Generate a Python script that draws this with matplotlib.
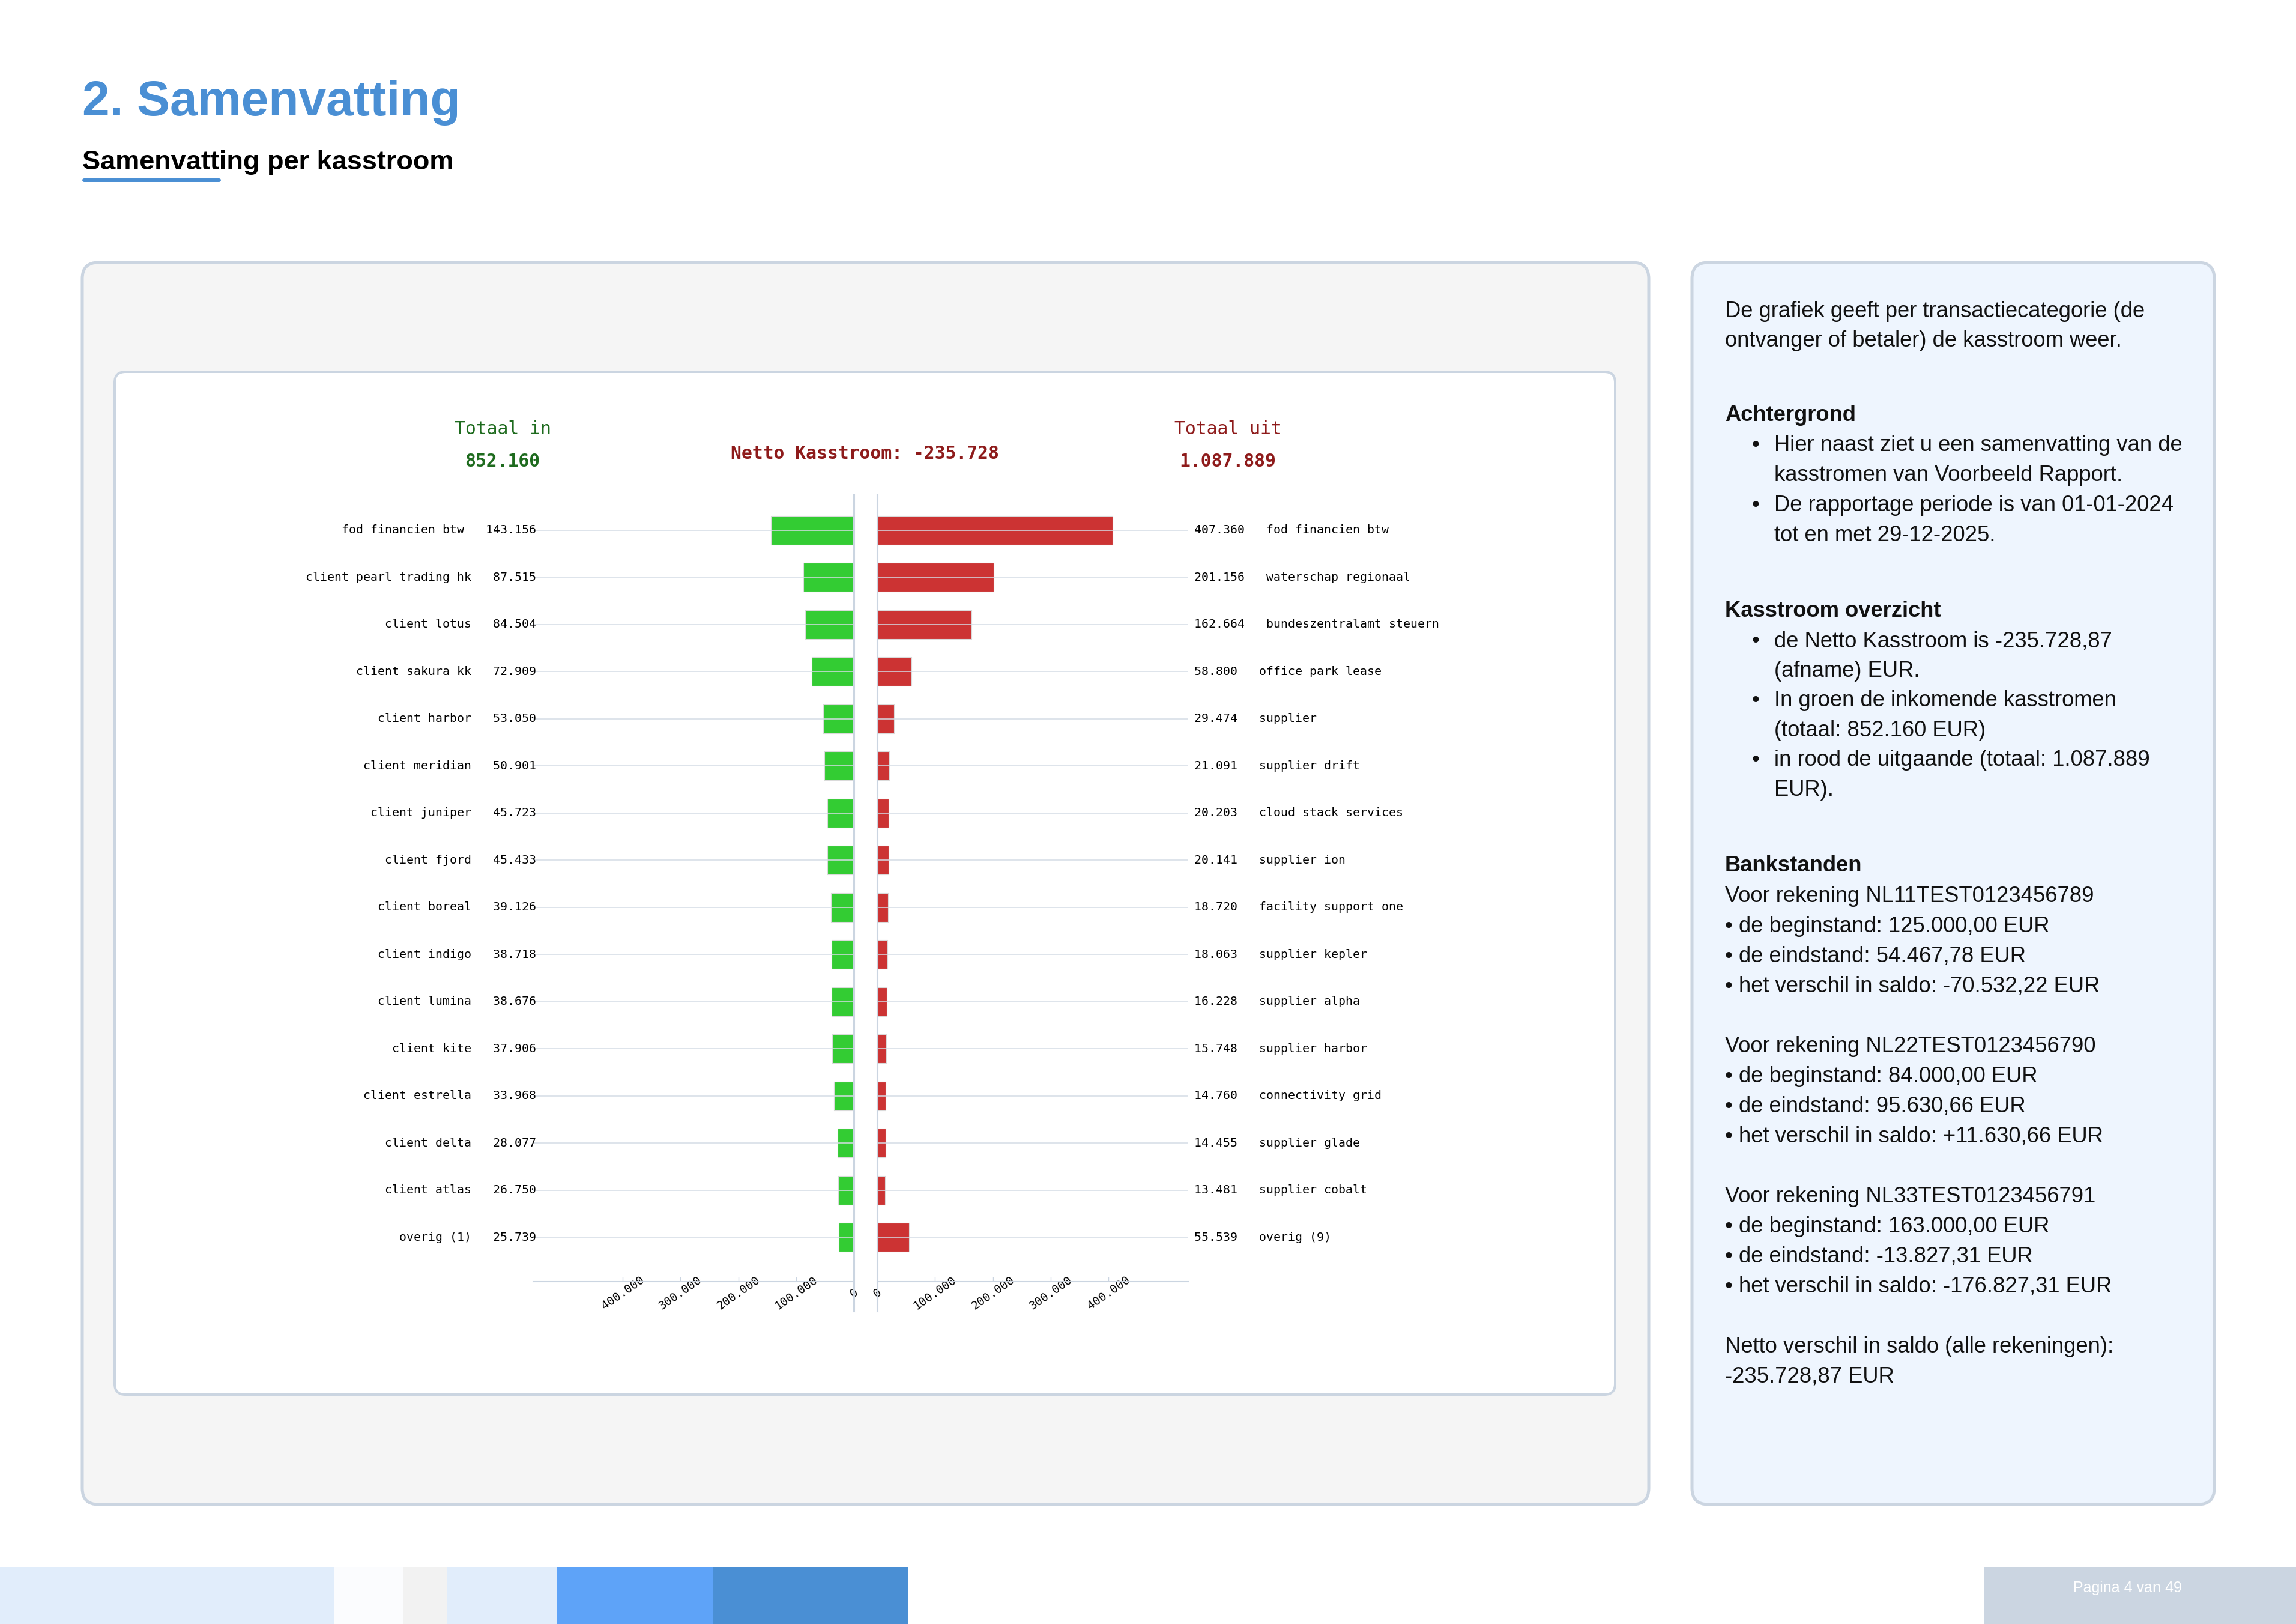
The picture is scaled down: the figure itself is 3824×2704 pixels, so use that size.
import matplotlib
matplotlib.use("Agg")
import matplotlib.pyplot as plt
import matplotlib.transforms as mtransforms
from matplotlib.patches import FancyBboxPatch, Rectangle

W, H, DPI = 3824, 2704, 100

# ---------------- data ----------------
in_names = ["fod financien btw", "client pearl trading hk", "client lotus", "client sakura kk",
            "client harbor", "client meridian", "client juniper", "client fjord",
            "client boreal", "client indigo", "client lumina", "client kite",
            "client estrella", "client delta", "client atlas", "overig (1)"]
in_values = [143156, 87515, 84504, 72909, 53050, 50901, 45723, 45433,
             39126, 38718, 38676, 37906, 33968, 28077, 26750, 25739]

out_names = ["fod financien btw", "waterschap regionaal", "bundeszentralamt steuern",
             "office park lease", "supplier", "supplier drift", "cloud stack services",
             "supplier ion", "facility support one", "supplier kepler", "supplier alpha",
             "supplier harbor", "connectivity grid", "supplier glade", "supplier cobalt",
             "overig (9)"]
out_values = [407360, 201156, 162664, 58800, 29474, 21091, 20203, 20141,
              18720, 18063, 16228, 15748, 14760, 14455, 13481, 55539]

total_in = 852160
total_out = 1087889
netto = -235728
x_ticks = [0, 100000, 200000, 300000, 400000]

intro_lines = ["De grafiek geeft per transactiecategorie (de",
               "ontvanger of betaler) de kasstroom weer."]
achtergrond = [["Hier naast ziet u een samenvatting van de",
                "kasstromen van Voorbeeld Rapport."],
               ["De rapportage periode is van 01-01-2024",
                "tot en met 29-12-2025."]]
overzicht = [["de Netto Kasstroom is -235.728,87", "(afname) EUR."],
             ["In groen de inkomende kasstromen", "(totaal: 852.160 EUR)"],
             ["in rood de uitgaande (totaal: 1.087.889", "EUR)."]]
rekeningen = [("NL11TEST0123456789", "125.000,00", "54.467,78", "-70.532,22"),
              ("NL22TEST0123456790", "84.000,00", "95.630,66", "+11.630,66"),
              ("NL33TEST0123456791", "163.000,00", "-13.827,31", "-176.827,31")]
netto_saldo = "-235.728,87"

# ---------------- style ----------------
BLUE = "#4A8FD4"
BORDER = "#CBD5E1"
GREEN_BAR = "#33CC33"
RED_BAR = "#CC3333"
GREEN_TXT = "#1E6B1E"
RED_TXT = "#8E1B1B"
GRID = "#D5DCE5"
MONO = "DejaVu Sans Mono"
SANS = "Liberation Sans"


def nl(v):
    return f"{v:,}".replace(",", ".")


fig = plt.figure(figsize=(W / DPI, H / DPI), dpi=DPI)
fig.patch.set_facecolor("white")

# background axes in pixel coordinates
bg = fig.add_axes([0, 0, 1, 1])
bg.set_xlim(0, W)
bg.set_ylim(H, 0)
bg.axis("off")


def box(x0, y0, x1, y1, fc, ec, lw_px, r):
    bg.add_patch(FancyBboxPatch((x0, y0), x1 - x0, y1 - y0,
                                boxstyle=f"round,pad=0,rounding_size={r}",
                                fc=fc, ec=ec, lw=lw_px * 0.72))


# titles
bg.text(137, 192, "2. Samenvatting", color=BLUE, fontsize=59, fontweight="bold",
        family=SANS, va="baseline")
bg.text(137, 282, "Samenvatting per kasstroom", color="black", fontsize=32.5,
        fontweight="bold", family=SANS, va="baseline")
bg.plot([140, 365], [300, 300], color=BLUE, lw=4.3, solid_capstyle="round")

# panels
box(137, 437, 2746, 2505, "#F5F5F5", BORDER, 5, 27)
box(191, 619, 2690, 2322, "white", BORDER, 4, 18)
box(2818, 437, 3688, 2505, "#EEF5FE", BORDER, 5, 27)

# footer
footer = [(0, 556, "#E1EDFB"), (556, 671, "#FBFCFE"), (671, 744, "#F2F2F2"),
          (744, 927, "#E1EDFB"), (927, 1188, "#5EA3F8"), (1188, 1512, BLUE),
          (3305, 3824, "#CBD5E1")]
for x0, x1, c in footer:
    bg.add_patch(Rectangle((x0, 2609), x1 - x0, H - 2609, fc=c, ec="none"))
bg.text(3543, 2644, "Pagina 4 van 49", color="white", fontsize=18, family=SANS,
        ha="center", va="center")

# ---------------- chart ----------------
rows = list(range(len(in_values)))
top, bottom = 824, 2134
axh = (bottom - top) / H
ax_l = fig.add_axes([888 / W, 1 - bottom / H, (1422 - 888) / W, axh])
ax_r = fig.add_axes([1461 / W, 1 - bottom / H, (1979 - 1461) / W, axh])

ax_l.barh(rows, in_values, height=0.61, color=GREEN_BAR, edgecolor="#DADADA", lw=0.8, zorder=2)
ax_r.barh(rows, out_values, height=0.61, color=RED_BAR, edgecolor="#DADADA", lw=0.8, zorder=2)
ax_l.set_xlim(555000, 0)
ax_r.set_xlim(0, 538000)

for ax, side in ((ax_l, "l"), (ax_r, "r")):
    ax.set_ylim(15.94, -0.75)
    ax.patch.set_visible(False)
    ax.set_yticks([])
    ax.hlines(rows, 0, ax.get_xlim()[0] if side == "l" else ax.get_xlim()[1],
              color=GRID, lw=1.1, zorder=3)
    for s in ("top", "left", "right"):
        ax.spines[s].set_visible(False)
    ax.spines["bottom"].set_color(BORDER)
    ax.spines["bottom"].set_linewidth(1.5)
    ax.axvline(0, ymin=-0.0374, ymax=1, color=BORDER, lw=2.2, clip_on=False, zorder=4)
    ax.set_xticks(x_ticks)
    ax.set_xticklabels([nl(t) for t in x_ticks], family=MONO, fontsize=14,
                       rotation=35, rotation_mode="anchor", ha="center", va="center")
    ax.tick_params(axis="x", direction="in", length=6, width=1, color=BORDER, pad=13.5)

# row labels: "name   value" on the left, "value   name" on the right
tl = mtransforms.blended_transform_factory(bg.transData, ax_l.transData)
tr = mtransforms.blended_transform_factory(bg.transData, ax_r.transData)
for i, (n, v) in enumerate(zip(in_names, in_values)):
    ax_l.text(893, i, f"{n}   {nl(v)}", transform=tl, ha="right", va="center",
              family=MONO, fontsize=14.3)
for i, (n, v) in enumerate(zip(out_names, out_values)):
    ax_r.text(1989, i, f"{nl(v)}   {n}", transform=tr, ha="left", va="center",
              family=MONO, fontsize=14.3)

# chart headers
bg.text(837, 723, "Totaal in", color=GREEN_TXT, family=MONO, fontsize=21.4, ha="center", va="baseline")
bg.text(837, 777, nl(total_in), color=GREEN_TXT, family=MONO, fontsize=21.4,
        fontweight="bold", ha="center", va="baseline")
bg.text(2045, 723, "Totaal uit", color=RED_TXT, family=MONO, fontsize=21.4, ha="center", va="baseline")
bg.text(2045, 777, nl(total_out), color=RED_TXT, family=MONO, fontsize=21.4,
        fontweight="bold", ha="center", va="baseline")
bg.text(1440, 764, f"Netto Kasstroom: {'-' if netto < 0 else ''}{nl(abs(netto))}", color=RED_TXT,
        family=MONO, fontsize=21.4, fontweight="bold", ha="center", va="baseline")

# ---------------- right panel text ----------------
TX, BX, IX = 2873, 2918, 2955
FS = 26.2
TC = "#111111"


def line(x, y, s, bold=False):
    bg.text(x, y, s, color=TC, fontsize=FS, family=SANS, va="baseline",
            fontweight="bold" if bold else "normal")


line(TX, 528, intro_lines[0])
line(TX, 577, intro_lines[1])

line(TX, 701, "Achtergrond", bold=True)
y = 751
for item in achtergrond:
    bg.text(BX, y, "•", color=TC, fontsize=FS, family=SANS, va="baseline")
    for s in item:
        line(IX, y, s)
        y += 50

line(TX, 1027, "Kasstroom overzicht", bold=True)
y = 1077
for item in overzicht:
    bg.text(BX, y, "•", color=TC, fontsize=FS, family=SANS, va="baseline")
    for s in item:
        line(IX, y, s)
        y += 49.6

line(TX, 1451, "Bankstanden", bold=True)
y = 1502
for rek, begin, eind, verschil in rekeningen:
    line(TX, y, f"Voor rekening {rek}")
    line(TX, y + 50, f"• de beginstand: {begin} EUR")
    line(TX, y + 100, f"• de eindstand: {eind} EUR")
    line(TX, y + 150, f"• het verschil in saldo: {verschil} EUR")
    y += 250
line(TX, 2252, "Netto verschil in saldo (alle rekeningen):")
line(TX, 2302, f"{netto_saldo} EUR")

fig.savefig("out.png", dpi=DPI, facecolor="white")
